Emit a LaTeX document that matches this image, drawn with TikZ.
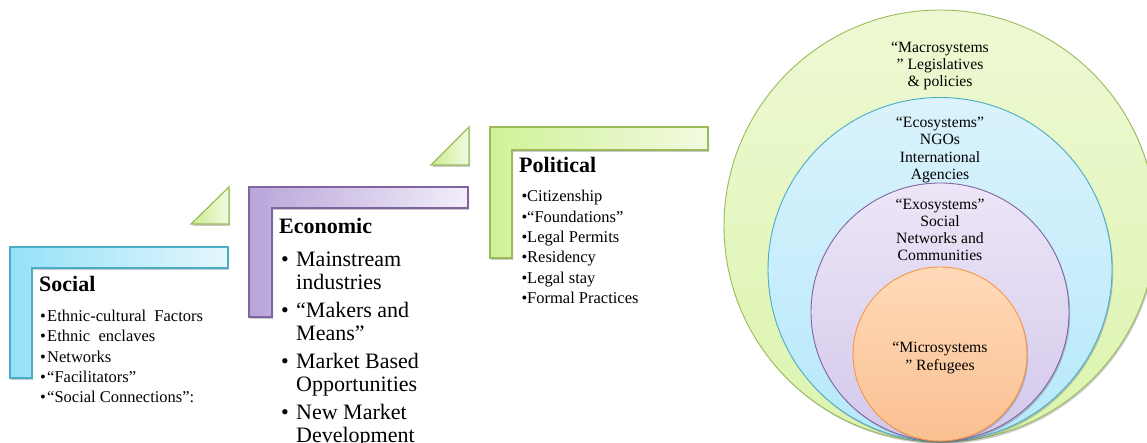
\documentclass[tikz,border=0pt]{standalone}
\usepackage{fontspec}
\setmainfont{Liberation Serif}
\usetikzlibrary{shadows}
\definecolor{cyanB}{RGB}{75,172,198}
\definecolor{cyanL}{RGB}{150,225,248}
\definecolor{cyanR}{RGB}{228,247,253}
\definecolor{purB}{RGB}{128,100,162}
\definecolor{purL}{RGB}{185,165,218}
\definecolor{purR}{RGB}{242,238,250}
\definecolor{grnB}{RGB}{155,187,89}
\definecolor{grnL}{RGB}{208,242,150}
\definecolor{grnR}{RGB}{242,250,225}
\definecolor{oraB}{RGB}{247,150,70}
\definecolor{c1top}{RGB}{238,249,212}
\definecolor{c1bot}{RGB}{220,244,175}
\definecolor{c2top}{RGB}{218,243,252}
\definecolor{c2bot}{RGB}{182,232,250}
\definecolor{c3top}{RGB}{236,230,247}
\definecolor{c3bot}{RGB}{212,200,235}
\definecolor{c4top}{RGB}{255,218,185}
\definecolor{c4bot}{RGB}{250,192,145}
\tikzset{
  sh/.style={drop shadow={shadow xshift=1.2pt,shadow yshift=-1.8pt,opacity=0.35,fill=black!60}},
  lshape/.style={draw=#1,line width=1.2pt,line join=miter,sh},
  tri/.style={draw=grnB,line width=1.2pt,left color=grnL!90!grnB,right color=grnR,sh},
  ring/.style={line width=0.9pt},
  title/.style={font=\fontsize{22}{24}\selectfont\bfseries,inner sep=0pt,anchor=base west},
  smalllist/.style={font=\fontsize{16.5}{20.3}\selectfont,inner sep=0pt,align=left,anchor=base west},
  biglist/.style={font=\fontsize{22}{23}\selectfont,inner sep=0pt,align=left,anchor=base west},
  ctext/.style={font=\fontsize{15.7}{17.2}\selectfont,inner sep=0pt,align=center}
}
\newcommand{\mybul}[1]{\makebox[#1][l]{•}}
\begin{document}
\begin{tikzpicture}[x=1pt,y=-1pt]
\useasboundingbox (0,0) rectangle (1147,443);
% circles
\draw[ring,draw=grnB,top color=c1top,bottom color=c1bot,sh] (940,226) circle[radius=216];
\draw[ring,draw=cyanB,top color=c2top,bottom color=c2bot,sh] (940,269.5) circle[radius=172];
\draw[ring,draw=purB,top color=c3top,bottom color=c3bot,sh] (940,312) circle[radius=129];
\draw[ring,draw=oraB,top color=c4top,bottom color=c4bot,sh] (940,354) circle[radius=87];
\node[ctext] (macro) at (940,66) {“Macrosystems\\ ” Legislatives\\ \& policies};
\node[ctext] (eco) at (940,150) {“Ecosystems”\\ NGOs\\ International\\ Agencies};
\node[ctext] (exo) at (940,230) {“Exosystems”\\ Social\\ Networks and\\ Communities};
\node[ctext] (micro) at (940,358) {“Microsystems\\ ” Refugees};
% L shapes
\path[lshape=cyanB,left color=cyanL,right color=cyanR]
  (10,247) -- (228,247) -- (228,268) -- (32,268) -- (32,378) -- (10,378) -- cycle;
\path[lshape=purB,left color=purL,right color=purR]
  (249,187) -- (468,187) -- (468,208) -- (272,208) -- (272,317) -- (249,317) -- cycle;
\path[lshape=grnB,left color=grnL,right color=grnR]
  (490,127) -- (708,127) -- (708,150) -- (512,150) -- (512,258) -- (490,258) -- cycle;
% triangles
\path[tri] (229,187) -- (229,224) -- (191,224) -- cycle;
\path[tri] (469,127) -- (469,165) -- (431,165) -- cycle;
% texts (base anchor = baseline of the last line)
\node[title] (soc) at (39,291.7) {Social};
\node[smalllist] (socl) at (40,402.7) {\mybul{7pt}Ethnic-cultural\ \ Factors\\ \mybul{7pt}Ethnic\ \ enclaves\\ \mybul{7pt}Networks\\ \mybul{7pt}“Facilitators”\\ \mybul{7pt}“Social Connections”:};
\node[title] (econ) at (279,233.3) {Economic};
\node[biglist] (econl) at (281,442.7) {\mybul{15pt}Mainstream\\ \hspace*{15pt}industries\\[5pt] \mybul{15pt}“Makers and\\ \hspace*{15pt}Means”\\[5pt] \mybul{15pt}Market Based\\ \hspace*{15pt}Opportunities\\[5pt] \mybul{15pt}New Market\\ \hspace*{15pt}Development};
\node[title] (pol) at (519,173) {Political};
\node[smalllist] (poll) at (521.5,303.3) {\mybul{5.5pt}Citizenship\\ \mybul{5.5pt}“Foundations”\\ \mybul{5.5pt}Legal Permits\\ \mybul{5.5pt}Residency\\ \mybul{5.5pt}Legal stay\\ \mybul{5.5pt}Formal Practices};
\end{tikzpicture}
\end{document}
